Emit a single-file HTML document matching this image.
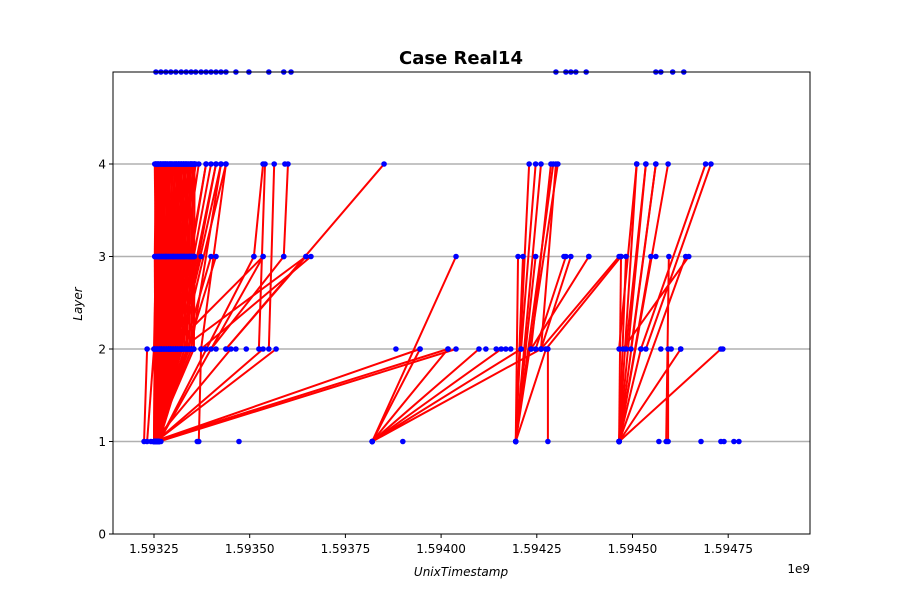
<!DOCTYPE html>
<html><head><meta charset="utf-8"><style>
html,body{margin:0;padding:0;background:#fff;}
svg{display:block;font-family:"DejaVu Sans","Liberation Sans",sans-serif;}
</style></head><body>
<svg id="chart" width="900" height="600" viewBox="0 0 900 600" xmlns="http://www.w3.org/2000/svg">
<rect width="900" height="600" fill="#fff"/>
<text x="461" y="64" text-anchor="middle" font-size="18" font-weight="bold">Case Real14</text>
<g id="grid"></g>
<g id="edges"></g>
<g id="dots"></g>
<rect x="113" y="72" width="697" height="462" fill="none" stroke="#000" stroke-width="1"/>
<g id="axes"></g>
<text x="461" y="576" text-anchor="middle" font-size="12" font-style="italic">UnixTimestamp</text>
<text x="810" y="573" text-anchor="end" font-size="12">1e9</text>
<text transform="translate(82,304) rotate(-90)" text-anchor="middle" font-size="12" font-style="italic">Layer</text>
</svg>
<script>
const xTicks=[1.59325,1.5935,1.59375,1.594,1.59425,1.5945,1.59475];
const xTickLabels=["1.59325","1.59350","1.59375","1.59400","1.59425","1.59450","1.59475"];
const yTicks=[0,1,2,3,4];
const edgeX1=[1.59325,1.59325,1.59325,1.59325,1.59325,1.593252,1.593252,1.593255,1.593255,1.593258,1.59326,1.593263,1.593263,1.593263,1.593263,
1.59325,1.59325,1.593252,1.593255,1.593255,1.593258,1.59326,1.593263,1.593263,1.593263,
1.59325,1.593255,1.593255,1.593224,1.593232,
1.59325,1.593268,1.593289,1.593307,1.593321,1.593347,1.593373,1.593294,1.593321,1.593373,1.593438,1.593399,1.593438,1.593511,1.593524,1.59355,1.593589,1.593367,
1.59325,1.59325,1.593263,
1.59382,1.59382,1.59382,1.59382,1.59382,1.59382,1.59382,
1.594195,1.594195,1.594195,1.594195,1.594195,1.594195,1.594195,1.594195,
1.594279,1.594209,1.594235,1.594261,1.594235,1.594261,1.594247,
1.594465,1.594465,1.594465,1.594465,1.594465,1.594465,1.594465,1.594465,1.594465,1.594465,1.594465,
1.594465,1.594483,1.594496,1.594522,1.594535,1.594475,1.594593,1.594588,1.594261,1.594274];
const edgeL1=[1,1,1,1,1,1,1,1,1,1,1,1,1,1,1,1,1,1,1,1,1,1,1,1,1,1,1,1,1,1,2,2,2,2,2,2,2,2,2,2,2,2,2,3,2,2,3,1,1,1,1,1,1,1,1,1,1,1,1,1,1,1,1,1,1,1,1,2,2,2,2,2,2,1,1,1,1,1,1,1,1,1,1,1,2,2,2,2,2,2,1,1,2,2];
const edgeX2=[1.593255,1.593268,1.593281,1.593294,1.593307,1.593321,1.593334,1.593347,1.593359,1.593367,1.593386,1.593399,1.593412,1.593425,1.593438,
1.593263,1.593281,1.5933,1.593321,1.593347,1.593373,1.593399,1.593412,1.593511,1.593535,
1.593451,1.593535,1.593569,1.593232,1.59325,
1.59326,1.593315,1.593347,1.593386,1.593412,1.593425,1.593438,1.593535,1.593647,1.59366,1.593647,1.593589,1.593851,1.593535,1.59354,1.593564,1.5936,1.593373,
1.593945,1.594018,1.594039,
1.593945,1.594018,1.594039,1.594099,1.594157,1.594209,1.594261,
1.594201,1.594214,1.59423,1.594247,1.594261,1.594293,1.594305,1.594274,
1.594279,1.594247,1.594287,1.5943,1.594386,1.594339,1.594326,
1.59447,1.594483,1.594511,1.594535,1.594561,1.594593,1.594548,1.594639,1.594522,1.594626,1.594731,
1.594511,1.594535,1.594561,1.594691,1.594705,1.594647,1.594593,1.594595,1.594465,1.59447];
const edgeL2=[4,4,4,4,4,4,4,4,4,4,4,4,4,4,4,3,3,3,3,3,3,3,3,3,3,2,2,2,2,2,4,4,4,4,4,4,4,3,3,3,3,3,4,4,4,4,4,2,2,2,2,2,2,3,2,2,2,2,3,3,4,3,4,4,4,2,2,4,4,4,3,3,3,3,3,4,4,4,4,3,3,2,2,2,4,4,4,4,4,3,2,3,3,3];
const denseX1=[1.59325,1.59325,1.59325,1.59325,1.59325,1.59325,1.59325,1.59325,1.59325,1.59325,1.59325,1.59325,1.59325,1.59325,1.59325,1.59325,1.59325,1.59325,
1.593255,1.593255,1.593255,1.593255,1.593255,1.593255,1.593255,1.593255,1.593255,1.593255,1.593255,1.593255,1.593255,1.593255,1.593255,1.593255,1.593255,1.593255,
1.59326,1.59326,1.59326,1.59326,1.59326,1.59326,1.59326,1.59326,1.59326,1.59326,1.59326,1.59326,1.59326,1.59326,1.59326,1.59326,1.59326,1.59326,
1.593252,1.593258,1.593264,1.59327,1.593276,1.593282,1.593288,1.593294,1.5933,1.593306,1.593312,1.593318,1.593324,1.59333,1.593336,1.593342,1.593348,1.593354,
1.593252,1.593258,1.593264,1.59327,1.593276,1.593282,1.593288,1.593294,1.5933,1.593306,1.593312,1.593318,1.593324,1.59333,1.593336,1.593342,1.593348,1.593354,
1.593252,1.593258,1.593264,1.59327,1.593276,1.593282,1.593288,1.593294,1.5933,1.593306,1.593312,1.593318,1.593324,1.59333,1.593336,1.593342,1.593348,1.593354];
const denseL1=[1,1,1,1,1,1,1,1,1,1,1,1,1,1,1,1,1,1,1,1,1,1,1,1,1,1,1,1,1,1,1,1,1,1,1,1,1,1,1,1,1,1,1,1,1,1,1,1,1,1,1,1,1,1,
2,2,2,2,2,2,2,2,2,2,2,2,2,2,2,2,2,2,2,2,2,2,2,2,2,2,2,2,2,2,2,2,2,2,2,2,
3,3,3,3,3,3,3,3,3,3,3,3,3,3,3,3,3,3];
const denseX2=[1.593252,1.593258,1.593264,1.59327,1.593276,1.593282,1.593288,1.593294,1.5933,1.593306,1.593312,1.593318,1.593324,1.59333,1.593336,1.593342,1.593348,1.593354,
1.593252,1.593258,1.593264,1.59327,1.593276,1.593282,1.593288,1.593294,1.5933,1.593306,1.593312,1.593318,1.593324,1.59333,1.593336,1.593342,1.593348,1.593354,
1.593252,1.593258,1.593264,1.59327,1.593276,1.593282,1.593288,1.593294,1.5933,1.593306,1.593312,1.593318,1.593324,1.59333,1.593336,1.593342,1.593348,1.593354,
1.593255,1.593261,1.593267,1.593273,1.593279,1.593285,1.593291,1.593297,1.593303,1.593309,1.593315,1.593321,1.593327,1.593333,1.593339,1.593345,1.593351,1.593356,
1.593255,1.593261,1.593267,1.593273,1.593279,1.593285,1.593291,1.593297,1.593303,1.593309,1.593315,1.593321,1.593327,1.593333,1.593339,1.593345,1.593351,1.593356,
1.593255,1.593261,1.593267,1.593273,1.593279,1.593285,1.593291,1.593297,1.593303,1.593309,1.593315,1.593321,1.593327,1.593333,1.593339,1.593345,1.593351,1.593356];
const denseL2=[2,2,2,2,2,2,2,2,2,2,2,2,2,2,2,2,2,2,
3,3,3,3,3,3,3,3,3,3,3,3,3,3,3,3,3,3,
4,4,4,4,4,4,4,4,4,4,4,4,4,4,4,4,4,4,
4,4,4,4,4,4,4,4,4,4,4,4,4,4,4,4,4,4,
3,3,3,3,3,3,3,3,3,3,3,3,3,3,3,3,3,3,
4,4,4,4,4,4,4,4,4,4,4,4,4,4,4,4,4,4];
const extraX=[1.593255,1.593268,1.593281,1.593294,1.593307,1.593321,1.593334,1.593347,1.593359,1.593373,1.593386,1.593399,1.593412,1.593425,1.593438,1.593464,1.593498,1.59355,1.593589,1.593608,1.5943,1.594326,1.594339,1.594352,1.594379,1.594561,1.594574,1.594605,1.594634,
1.593242,1.593268,1.593363,1.593472,1.5939,1.594569,1.594679,1.594731,1.594739,1.594765,1.594778,
1.593464,1.593491,1.593882,1.594117,1.594144,1.594169,1.594182,1.594574,1.594601,1.594626,1.594736,1.593386,1.593412,
1.593328,1.593342,1.594321,1.594386,1.594561,
1.593276,1.593328,1.593355,1.593592];
const extraL=[5,5,5,5,5,5,5,5,5,5,5,5,5,5,5,5,5,5,5,5,5,5,5,5,5,5,5,5,5,
1,1,1,1,1,1,1,1,1,1,1,
2,2,2,2,2,2,2,2,2,2,2,2,2,
3,3,3,3,3,
4,4,4,4];
const L=113,R=810,T=72,B=534,XMIN=1.5931429,XMAX=1.5949637,YMIN=0,YMAX=4.9946;
const NS="http://www.w3.org/2000/svg";
function sx(v){return L+(v-XMIN)/(XMAX-XMIN)*(R-L);}
function sy(v){return B-(v-YMIN)/(YMAX-YMIN)*(B-T);}
function mk(tag,attrs,parent){const e=document.createElementNS(NS,tag);for(const k in attrs)e.setAttribute(k,attrs[k]);parent.appendChild(e);return e;}
const grid=document.getElementById('grid'),edges=document.getElementById('edges'),dots=document.getElementById('dots'),axes=document.getElementById('axes');
yTicks.forEach(v=>{if(v>0){const g=mk('line',{x1:L,x2:R,y1:sy(v),y2:sy(v),stroke:'#b0b0b0','stroke-width':1.5},grid);

}
const t=mk('line',{x1:L-4,x2:L,y1:sy(v),y2:sy(v),stroke:'#000'},axes);


const tx=mk('text',{x:L-7,y:sy(v)+4.5,'text-anchor':'end','font-size':12},axes);tx.textContent=v;

});
xTicks.forEach((v,i)=>{const t=mk('line',{x1:sx(v),x2:sx(v),y1:B,y2:B+4,stroke:'#000'},axes);


const tx=mk('text',{x:sx(v),y:B+19,'text-anchor':'middle','font-size':12},axes);tx.textContent=xTickLabels[i];

});
const pts=[];
function drawEdges(X1,L1,X2,L2){X1.forEach((x,i)=>{const l=mk('line',{x1:sx(x),y1:sy(L1[i]),x2:sx(X2[i]),y2:sy(L2[i]),stroke:'#ff0000','stroke-width':2},edges);


pts.push([x,L1[i]],[X2[i],L2[i]]);});}
drawEdges(edgeX1,edgeL1,edgeX2,edgeL2);
drawEdges(denseX1,denseL1,denseX2,denseL2);
extraX.forEach((x,i)=>pts.push([x,extraL[i]]));
pts.forEach(p=>{const c=mk('circle',{cx:sx(p[0]),cy:Math.max(sy(p[1]),T),r:2.8,fill:'#0000ff'},dots);

});
</script>
</body></html>
